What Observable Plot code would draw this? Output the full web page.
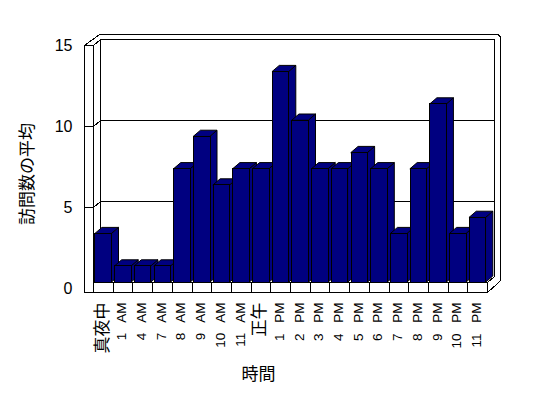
<!DOCTYPE html>
<html>
<head>
<meta charset="utf-8">
<script src="https://cdn.jsdelivr.net/npm/d3@7"></script>
<script src="https://cdn.jsdelivr.net/npm/@observablehq/plot@0.6"></script>
<style>
  html, body { margin: 0; padding: 0; background: white; }
  #chart svg text { word-spacing: 7px; }
</style>
</head>
<body>
<div id="chart"></div>
<script>
// ---- data ----
const categories = ["真夜中", "1 AM", "4 AM", "7 AM", "8 AM", "9 AM", "10 AM", "11 AM", "正午",
  "1 PM", "2 PM", "3 PM", "4 PM", "5 PM", "6 PM", "7 PM", "8 PM", "9 PM", "10 PM", "11 PM"];
const visits = [3, 1, 1, 1, 7, 9, 6, 7, 7, 13, 10, 7, 7, 8, 7, 3, 7, 11, 3, 4];
const yTicks = [0, 5, 10, 15];
const yGrid = [5, 10, 15];
const xTitle = "時間";
const yTitle = "訪問数の平均";

// ---- geometry (data units) ----
const N = categories.length, YMAX = 15;
const DX = 0.355, DY = 0.37;       // depth offset of bars / back wall
const LW = 0.46;                   // left wall front thickness
const TX = 0.3, TY = 0.3;          // back wall thickness
const FB = 0.62;                   // floor front height
const BL = 0.1, BR = 0.94;         // bar front within slot
const NAVY = "#000080";

const bars = categories.map((c, i) => ({c, i, v: visits[i], xl: i + BL, xr: i + BR}));
const sides = bars.flatMap(b => [
  {i: b.i, x: b.xr, y1: 0, y2: b.v},
  {i: b.i, x: b.xr + DX, y1: DY, y2: b.v + DY}
]);
const tops = bars.flatMap(b => [
  {i: b.i, y: b.v, x1: b.xl, x2: b.xr},
  {i: b.i, y: b.v + DY, x1: b.xl + DX, x2: b.xr + DX}
]);

const paths = [];
yGrid.forEach(v => paths.push([[-LW, v - DY], [0, v - DY], [DX, v], [N + DX, v]]));
paths.push([[-LW, YMAX - DY], [-LW, -FB]]);
paths.push([[0, YMAX - DY], [0, -FB]]);
paths.push([[DX, YMAX], [DX, DY]]);
paths.push([[-LW, YMAX - DY], [DX - 0.05, YMAX + TY], [N + DX + TX - 0.12, YMAX + TY],
            [N + DX + TX, YMAX + TY - 0.15], [N + DX + TX, 0.1], [N, -FB]]);
paths.push([[N + DX, YMAX], [N + DX, DY], [N, 0]]);
paths.push([[0, 0], [N, 0]]);
paths.push([[-LW, -FB], [N, -FB]]);
for (let k = 1; k <= N; k++) paths.push([[k, 0], [k, -FB]]);
const frame = paths.flatMap((p, g) => p.map(([x, y]) => ({g, x, y})));

const isCJK = s => /[^\x00-\x7F]/.test(s);

const chart = Plot.plot({
  width: 548,
  height: 398,
  marginLeft: 93,
  marginRight: 61,
  marginTop: 39,
  marginBottom: 116,
  x: {domain: [0, N], axis: null},
  y: {domain: [0, YMAX], axis: null},
  style: {
    background: "white",
    fontFamily: "'Liberation Sans', Arial, 'Noto Sans CJK JP', sans-serif",
    fontSize: "12px",
    color: "black",
    overflow: "visible"
  },
  marks: [
    Plot.line(frame, {x: "x", y: "y", z: "g", stroke: "black", strokeWidth: 1, shapeRendering: "crispEdges"}),
    Plot.area(sides, {x1: "x", x2: "x", y1: "y1", y2: "y2", z: "i", fill: NAVY, stroke: "black", strokeWidth: 1}),
    Plot.area(tops, {x1: "x1", x2: "x2", y1: "y", y2: "y", z: "i", fill: NAVY, stroke: "black", strokeWidth: 1}),
    Plot.rect(bars, {x1: "xl", x2: "xr", y1: 0, y2: "v", fill: NAVY, stroke: "black", strokeWidth: 1, shapeRendering: "crispEdges"}),
    Plot.text(yTicks, {x: -LW, y: d => d - DY, text: d => String(d), textAnchor: "end", dx: -12, fontSize: 16}),
    Plot.text(bars, {x: d => d.i + 0.5, y: () => -FB, text: "c", rotate: -90, textAnchor: "end",
      lineAnchor: "middle", dy: 10, dx: -1, fontSize: d => isCJK(d.c) ? 17 : 13.5,
      fontFamily: "'Liberation Sans', 'Noto Sans CJK JP', sans-serif"}),
    Plot.text([yTitle], {frameAnchor: "left", rotate: -90, dx: -66, dy: 13, textAnchor: "middle",
      lineAnchor: "middle", fontSize: 17, fontFamily: "'Noto Sans CJK JP', sans-serif"}),
    Plot.text([xTitle], {frameAnchor: "bottom", dx: -32, dy: 92, textAnchor: "middle", lineAnchor: "middle",
      fontSize: 17, fontFamily: "'Noto Sans CJK JP', sans-serif"})
  ]
});
document.getElementById("chart").appendChild(chart);
</script>
</body>
</html>
